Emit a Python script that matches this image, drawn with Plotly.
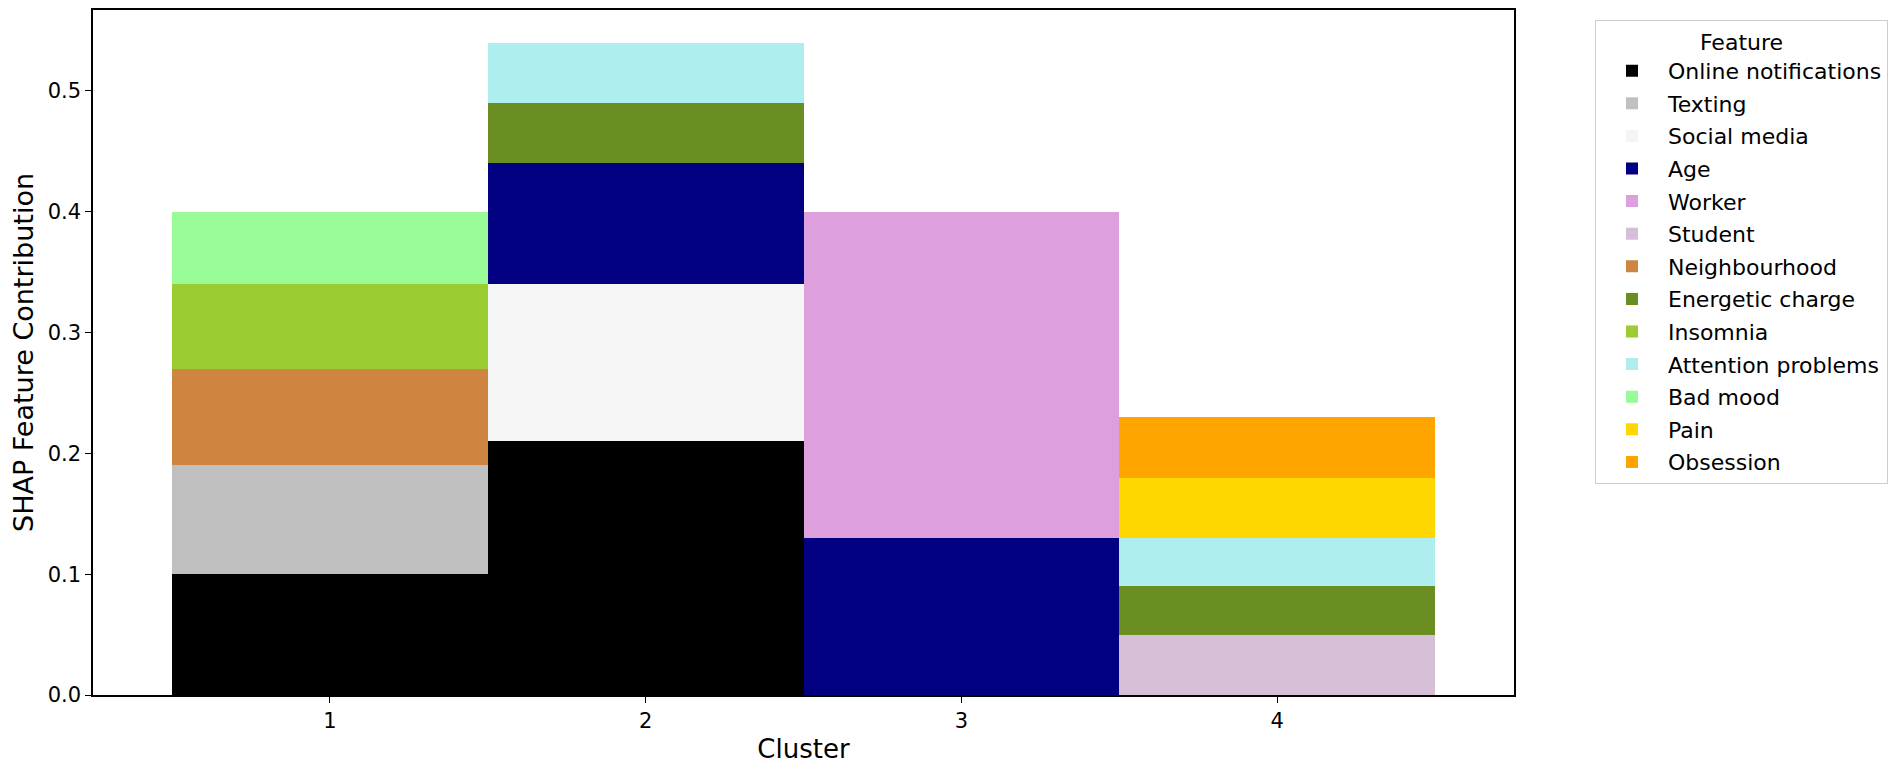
import plotly.graph_objects as go

clusters = [1, 2, 3, 4]
features = ["Online notifications", "Texting", "Social media", "Age", "Worker", "Student",
            "Neighbourhood", "Energetic charge", "Insomnia", "Attention problems",
            "Bad mood", "Pain", "Obsession"]
colors = ["#000000", "#C0C0C0", "#F5F5F5", "#000080", "#DDA0DD", "#D8BFD8",
          "#CD853F", "#6B8E23", "#9ACD32", "#AFEEEE", "#98FB98", "#FFD700", "#FFA500"]

online_notifications = [0.10, 0.21, None, None]
texting = [0.09, None, None, None]
social_media = [None, 0.13, None, None]
age = [None, 0.10, 0.13, None]
worker = [None, None, 0.27, None]
student = [None, None, None, 0.05]
neighbourhood = [0.08, None, None, None]
energetic_charge = [None, 0.05, None, 0.04]
insomnia = [0.07, None, None, None]
attention_problems = [None, 0.05, None, 0.04]
bad_mood = [0.06, None, None, None]
pain = [None, None, None, 0.05]
obsession = [None, None, None, 0.05]

series = [online_notifications, texting, social_media, age, worker, student,
          neighbourhood, energetic_charge, insomnia, attention_problems,
          bad_mood, pain, obsession]

fig = go.Figure()
for name, vals, col in zip(features, series, colors):
    fig.add_trace(go.Bar(x=clusters, y=vals, name=name, width=1, legendgroup=name,
                         marker=dict(color=col, line=dict(width=0))))

font = "DejaVu Sans, Arial, sans-serif"
fig.update_layout(
    width=1894, height=761,
    barmode="stack", bargap=0,
    plot_bgcolor="white", paper_bgcolor="white",
    margin=dict(l=85, r=388, t=2, b=74, autoexpand=False),
    font=dict(family=font, color="black", size=21),
    xaxis=dict(range=[0.25, 4.75], tickvals=clusters, ticktext=[str(c) for c in clusters],
               showline=True, linecolor="black", linewidth=1.5, mirror=True,
               ticks="outside", ticklen=6, tickcolor="black", showgrid=False, zeroline=False,
               title=dict(text="Cluster", font=dict(size=26), standoff=8)),
    yaxis=dict(range=[0, 0.567], tickvals=[0, 0.1, 0.2, 0.3, 0.4, 0.5], tickformat=".1f",
               showline=True, linecolor="black", linewidth=1.5, mirror=True,
               ticks="outside", ticklen=6, tickcolor="black", showgrid=False, zeroline=False,
               title=dict(text="SHAP Feature Contribution", font=dict(size=27), standoff=9)),
    legend=dict(x=1.057, y=0.985, xanchor="left", yanchor="top",
                bordercolor="#CCCCCC", borderwidth=1, bgcolor="white",
                font=dict(size=22), traceorder="grouped", tracegroupgap=1, itemwidth=62,
                title=dict(text="Feature", side="top center", font=dict(size=22))),
)

fig.write_html("out.html")
